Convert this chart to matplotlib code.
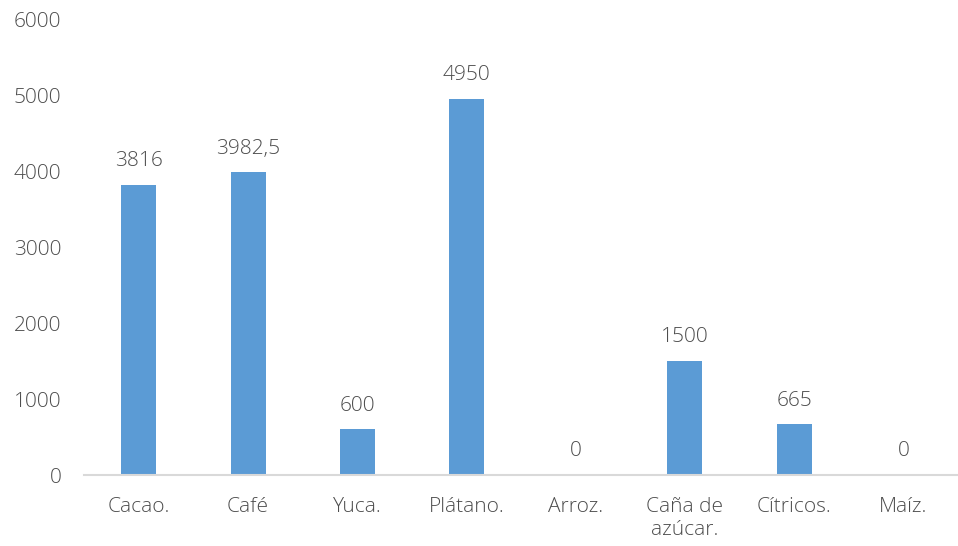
import matplotlib
matplotlib.use("Agg")
import matplotlib.pyplot as plt

categories = ["Cacao.", "Café", "Yuca.", "Plátano.", "Arroz.", "Caña de\nazúcar.", "Cítricos.", "Maíz."]
values = [3816, 3982.5, 600, 4950, 0, 1500, 665, 0]
labels = ["3816", "3982,5", "600", "4950", "0", "1500", "665", "0"]
yticks = [0, 1000, 2000, 3000, 4000, 5000, 6000]

plt.rcParams['font.family'] = ['Open Sans', 'DejaVu Sans']
txt = "#4d4d4d"
fs = 15

fig = plt.figure(figsize=(9.58, 5.46), dpi=100)
ax = fig.add_axes([0.088, 0.130, 0.912, 0.835])
x = list(range(len(categories)))
bars = ax.bar(x, values, width=0.32, color="#5B9BD5")
ax.set_xlim(-0.5, len(categories) - 0.5)
ax.set_ylim(0, 6000)
ax.set_yticks(yticks)
ax.set_yticklabels([str(t) for t in yticks])
ax.set_xticks(x)
ax.set_xticklabels(categories, linespacing=1.25)
for s in ["top", "right", "left"]:
    ax.spines[s].set_visible(False)
ax.spines["bottom"].set_color("#D9D9D9")
ax.spines["bottom"].set_linewidth(1.5)
ax.tick_params(axis="both", length=0, labelsize=fs, labelcolor=txt)
ax.tick_params(axis="y", pad=16.5)
ax.tick_params(axis="x", pad=15.5)
for lab in ax.get_xticklabels() + ax.get_yticklabels():
    lab.set_fontweight("light")
for xi, v, l in zip(x, values, labels):
    ax.annotate(l, (xi, v), xytext=(0, 10), textcoords="offset points",
                ha="center", va="bottom", fontsize=fs, color=txt, fontweight="light")
fig.savefig("out.png", dpi=100)
